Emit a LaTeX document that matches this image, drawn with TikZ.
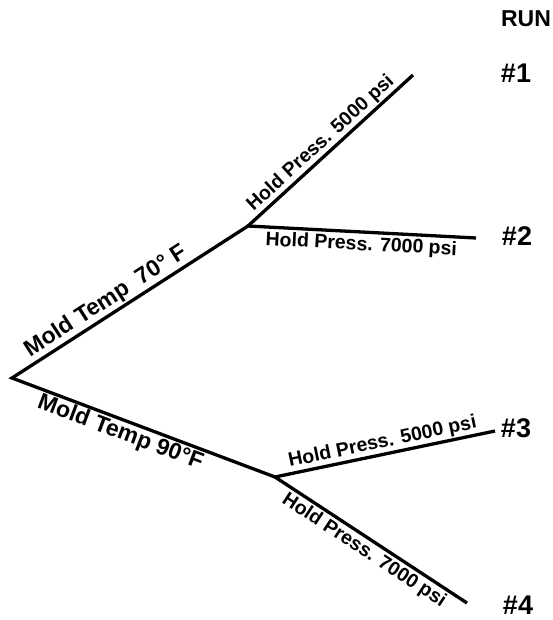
\documentclass[tikz,border=0pt]{standalone}
\usepackage{fontspec}
\setmainfont{Liberation Sans}
\begin{document}
\begin{tikzpicture}[x=1pt,y=-1pt,
  branch/.style={line width=3.3pt, line join=miter, line cap=butt},
  lbl/.style={font=\bfseries\fontsize{19.5}{19.5}\selectfont, inner sep=2.5pt},
  biglbl/.style={font=\bfseries\fontsize{23}{23}\selectfont, inner sep=2.5pt},
  runlbl/.style={font=\bfseries\fontsize{27}{27}\selectfont, inner sep=0pt}]
\useasboundingbox (0,0) rectangle (552,620);

% tree points
\coordinate (root) at (12,378);
\coordinate (hi) at (248,226);
\coordinate (lo) at (275,477);
\coordinate (e1) at (413,75);
\coordinate (e2) at (476,238);
\coordinate (e3) at (495,431);
\coordinate (e4) at (467,603);

% mold temperature branches
\draw[branch] (e2) -- (hi) -- (root) -- (lo) -- (e3);
\draw[branch] (hi) -- (e1);
\draw[branch] (lo) -- (e4);

\path (root) -- node[sloped, above, pos=0.43, biglbl] {Mold Temp\ \ 70° F} (hi);
\path (root) -- node[sloped, below, pos=0.43, biglbl] {Mold Temp 90°F} (lo);

% hold pressure branches
\path (hi) -- node[sloped, above, pos=0.49, lbl] {Hold Press. 5000 psi} (e1);
\path (hi) -- node[sloped, below, pos=0.5, lbl, inner sep=4pt] {Hold Press. 7000 psi} (e2);
\path (lo) -- node[sloped, above, pos=0.5, lbl] {Hold Press. 5000 psi} (e3);
\path (lo) -- node[sloped, below, pos=0.5, lbl, inner sep=3.5pt] {Hold Press. 7000 psi} (e4);

% run numbers
\node[runlbl, font=\bfseries\fontsize{23}{23}\selectfont] (run) at (526,19) {RUN};
\node[runlbl] (r1) at (516,73) {\#1};
\node[runlbl] (r2) at (517,236) {\#2};
\node[runlbl] (r3) at (516,428) {\#3};
\node[runlbl] (r4) at (518,605) {\#4};
\end{tikzpicture}
\end{document}
